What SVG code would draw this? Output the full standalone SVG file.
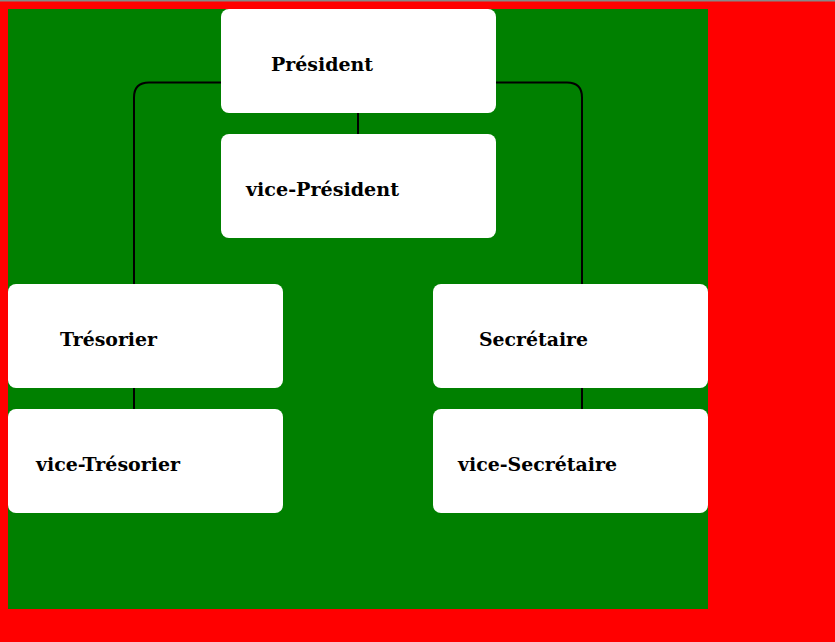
<svg xmlns="http://www.w3.org/2000/svg" width="835" height="642" viewBox="0 0 835 642">
<style>
.node{fill:#fff}
.lbl{font-family:"DejaVu Serif",serif;font-weight:bold;font-size:18px;fill:#000}
.edge{fill:none;stroke:#000;stroke-width:2}
</style>
<rect x="0" y="0" width="835" height="642" fill="#ff0000"/>
<rect x="0" y="0" width="835" height="1.5" fill="#888"/>
<rect x="8" y="9" width="700" height="600" fill="#008000"/>
<g id="connectors">
<path class="edge" d="M221 82.5 H149 Q134 82.5 134 97.5 V284"/>
<path class="edge" d="M496 82.5 H567 Q582 82.5 582 97.5 V284"/>
<path class="edge" d="M358 113 V134"/>
<path class="edge" d="M134 388 V409"/>
<path class="edge" d="M582 388 V409"/>
</g>
<g id="president"><rect class="node" x="221" y="9" width="275" height="104" rx="8"/><text class="lbl" x="271" y="71" textLength="102" lengthAdjust="spacingAndGlyphs">Président</text></g>
<g id="vice-president"><rect class="node" x="221" y="134" width="275" height="104" rx="8"/><text class="lbl" x="246" y="196" textLength="153" lengthAdjust="spacingAndGlyphs">vice-Président</text></g>
<g id="tresorier"><rect class="node" x="8" y="284" width="275" height="104" rx="8"/><text class="lbl" x="60" y="346" textLength="97" lengthAdjust="spacingAndGlyphs">Trésorier</text></g>
<g id="vice-tresorier"><rect class="node" x="8" y="409" width="275" height="104" rx="8"/><text class="lbl" x="36" y="471" textLength="144" lengthAdjust="spacingAndGlyphs">vice-Trésorier</text></g>
<g id="secretaire"><rect class="node" x="433" y="284" width="275" height="104" rx="8"/><text class="lbl" x="479" y="346" textLength="109" lengthAdjust="spacingAndGlyphs">Secrétaire</text></g>
<g id="vice-secretaire"><rect class="node" x="433" y="409" width="275" height="104" rx="8"/><text class="lbl" x="458" y="471" textLength="159" lengthAdjust="spacingAndGlyphs">vice-Secrétaire</text></g>
</svg>
